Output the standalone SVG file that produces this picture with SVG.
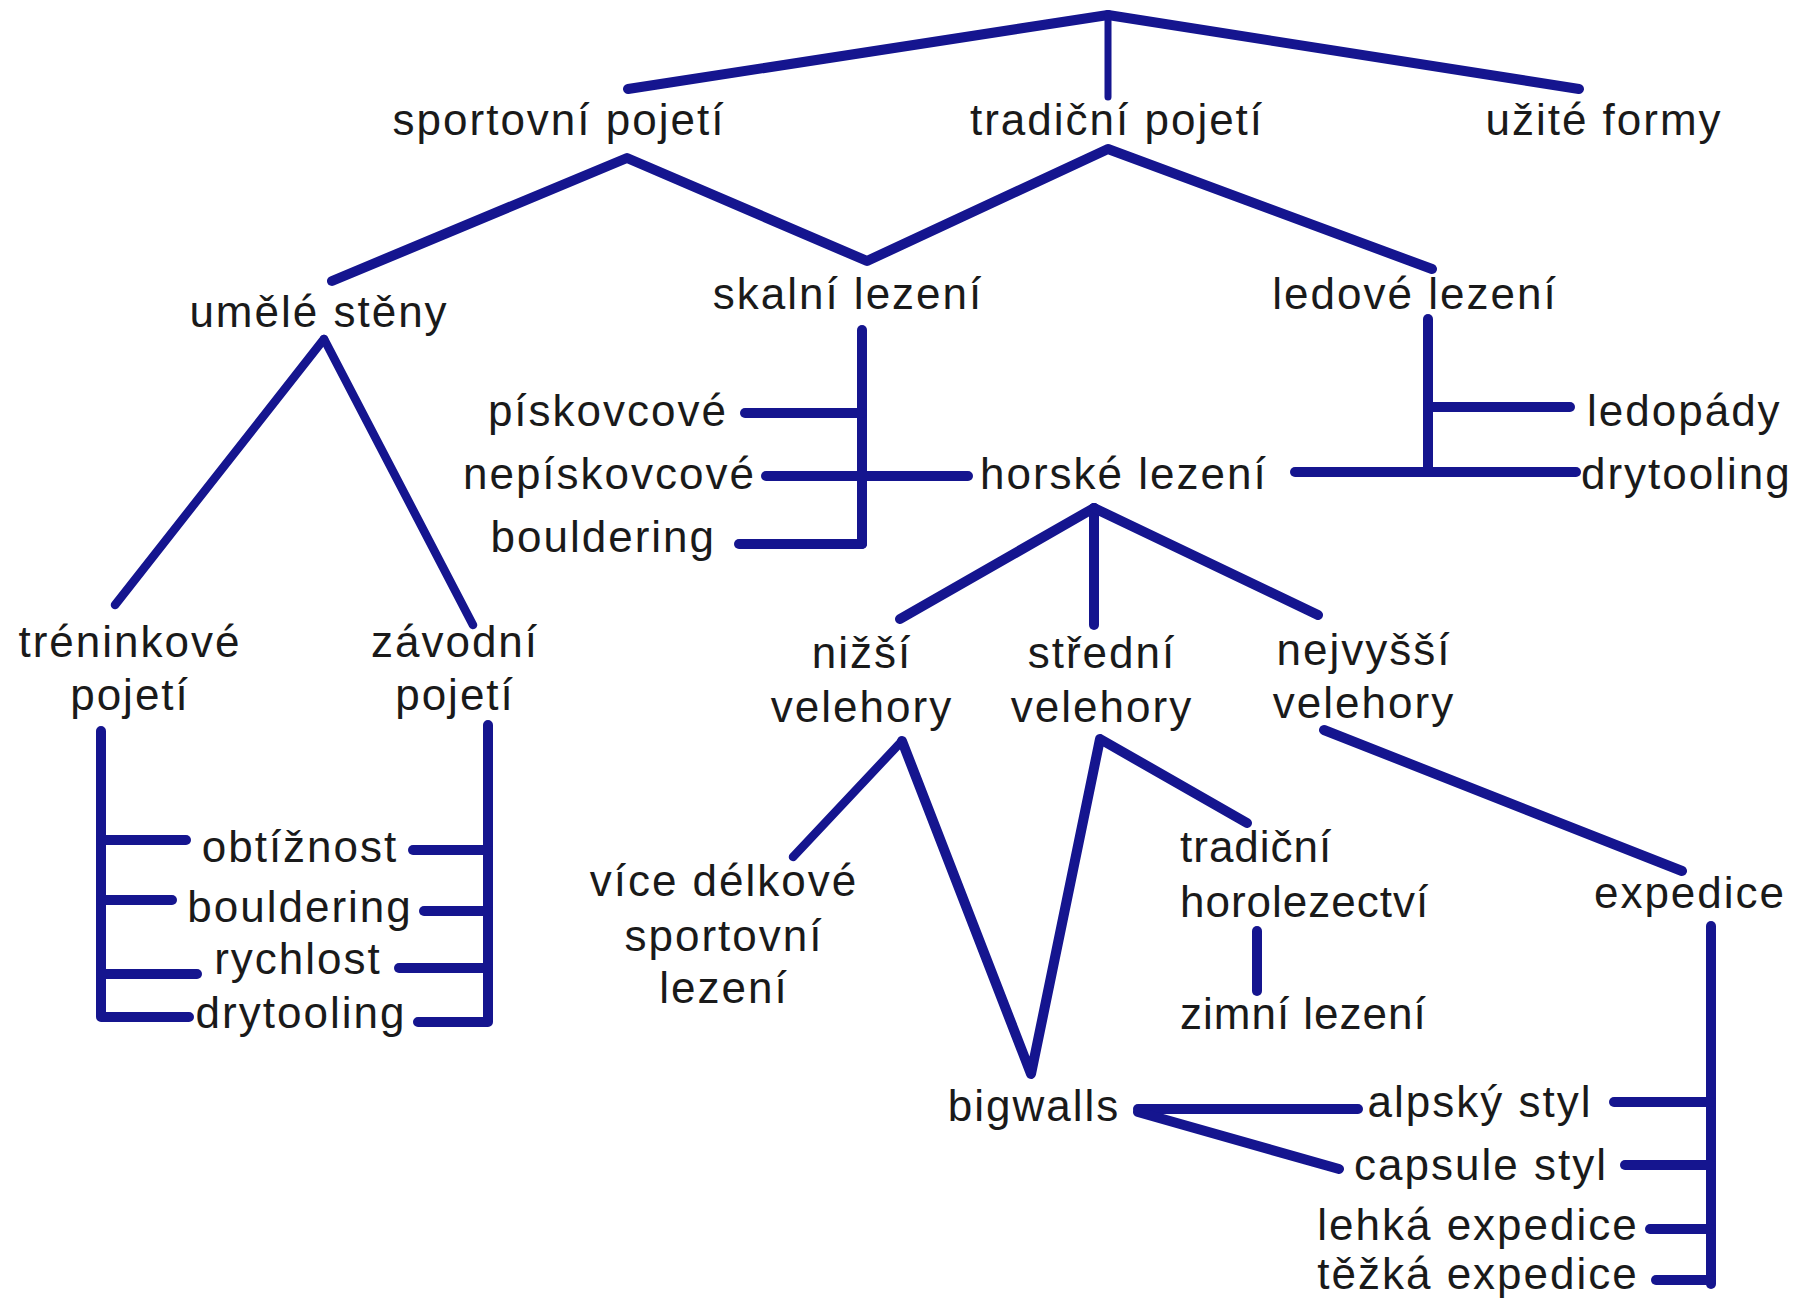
<svg xmlns="http://www.w3.org/2000/svg" width="1797" height="1301" viewBox="0 0 1797 1301">
<style>
text{font-family:"Liberation Sans",Arial,sans-serif;font-size:44px;fill:#1a1a1a;letter-spacing:2px}
.m{text-anchor:middle}
.e{text-anchor:end}
.n{letter-spacing:1px}
.c line,.c polyline{stroke:#15158f;stroke-width:10;fill:none;stroke-linecap:round;stroke-linejoin:round}
.c .t{stroke-width:7}
.c .u{stroke-width:8.5}
</style>
<rect width="1797" height="1301" fill="#ffffff"/>
<g class="c" id="connectors">
<line x1="1108" y1="15" x2="628" y2="89"/>
<line x1="1108" y1="15" x2="1579" y2="89"/>
<line class="t" x1="1108" y1="15" x2="1108" y2="97"/>
<polyline points="332,281 627,158 867,261 1108,149 1432,269"/>
<line class="u" x1="324" y1="339" x2="115" y2="605"/>
<line class="u" x1="324" y1="339" x2="473" y2="625"/>
<line x1="862" y1="330" x2="862" y2="544"/>
<line x1="745" y1="413" x2="862" y2="413"/>
<line x1="766" y1="476" x2="968" y2="476"/>
<line x1="739" y1="544" x2="862" y2="544"/>
<line x1="1428" y1="319" x2="1428" y2="472"/>
<line x1="1432" y1="407" x2="1570" y2="407"/>
<line x1="1295" y1="472" x2="1576" y2="472"/>
<line x1="1094" y1="508" x2="900" y2="619"/>
<line x1="1094" y1="508" x2="1094" y2="625"/>
<line x1="1094" y1="508" x2="1318" y2="615"/>
<polyline points="101,731 101,1017 189,1017"/>
<line x1="101" y1="840" x2="186" y2="840"/>
<line x1="101" y1="900" x2="172" y2="900"/>
<line x1="101" y1="974" x2="197" y2="974"/>
<polyline points="488,725 488,1022 418,1022"/>
<line x1="413" y1="850" x2="488" y2="850"/>
<line x1="424" y1="911" x2="488" y2="911"/>
<line x1="399" y1="968" x2="488" y2="968"/>
<line class="u" x1="902" y1="741" x2="793" y2="857"/>
<polyline points="902,741 1031,1074 1100,739 1247,823"/>
<line x1="1257" y1="931" x2="1257" y2="991"/>
<line x1="1324" y1="730" x2="1682" y2="871"/>
<line x1="1711" y1="926" x2="1711" y2="1284"/>
<line x1="1614" y1="1102" x2="1711" y2="1102"/>
<line x1="1625" y1="1165" x2="1711" y2="1165"/>
<line x1="1650" y1="1229" x2="1711" y2="1229"/>
<line x1="1656" y1="1280" x2="1711" y2="1280"/>
<line x1="1138" y1="1109" x2="1358" y2="1109"/>
<line x1="1138" y1="1112" x2="1339" y2="1169"/>
</g>
<g id="n-sportovni"><text class="m" x="559" y="135">sportovní pojetí</text></g>
<g id="n-tradicni"><text class="m" x="1117" y="135">tradiční pojetí</text></g>
<g id="n-uzite"><text class="m" x="1604" y="135">užité formy</text></g>
<g id="n-umele"><text class="m" x="319" y="327">umělé stěny</text></g>
<g id="n-skalni"><text class="m" x="848" y="309">skalní lezení</text></g>
<g id="n-ledove"><text class="m" x="1415" y="309">ledové lezení</text></g>
<g id="n-piskovcove"><text class="e" x="728" y="426">pískovcové</text></g>
<g id="n-nepiskovcove"><text class="e" x="756" y="489">nepískovcové</text></g>
<g id="n-bouldering1"><text class="e" x="716" y="552">bouldering</text></g>
<g id="n-horske"><text x="980" y="489">horské lezení</text></g>
<g id="n-ledopady"><text x="1587" y="426">ledopády</text></g>
<g id="n-drytooling1"><text x="1581" y="489">drytooling</text></g>
<g id="n-treninkove"><text class="m" x="130" y="657">tréninkové</text><text class="m" x="130" y="710">pojetí</text></g>
<g id="n-zavodni"><text class="m" x="455" y="657">závodní</text><text class="m" x="455" y="710">pojetí</text></g>
<g id="n-obtiznost"><text class="m" x="300" y="862">obtížnost</text></g>
<g id="n-bouldering2"><text class="m" x="300" y="922">bouldering</text></g>
<g id="n-rychlost"><text class="m" x="298" y="974">rychlost</text></g>
<g id="n-drytooling2"><text class="m" x="301" y="1028">drytooling</text></g>
<g id="n-nizsi"><text class="m" x="862" y="668">nižší</text><text class="m" x="862" y="722">velehory</text></g>
<g id="n-stredni"><text class="m" x="1102" y="668">střední</text><text class="m" x="1102" y="722">velehory</text></g>
<g id="n-nejvyssi"><text class="m" x="1364" y="665">nejvyšší</text><text class="m" x="1364" y="718">velehory</text></g>
<g id="n-vice"><text class="m" x="724" y="896">více délkové</text><text class="m" x="724" y="951">sportovní</text><text class="m" x="724" y="1003">lezení</text></g>
<g id="n-trad-horo"><text class="n" x="1180" y="862">tradiční</text><text class="n" x="1180" y="917">horolezectví</text></g>
<g id="n-zimni"><text class="n" x="1180" y="1029">zimní lezení</text></g>
<g id="n-expedice"><text class="m" x="1690" y="908">expedice</text></g>
<g id="n-bigwalls"><text class="m" x="1034" y="1121">bigwalls</text></g>
<g id="n-alpsky"><text class="m" x="1480" y="1117">alpský styl</text></g>
<g id="n-capsule"><text class="m" x="1481" y="1180">capsule styl</text></g>
<g id="n-lehka"><text class="m" x="1478" y="1240">lehká expedice</text></g>
<g id="n-tezka"><text class="m" x="1478" y="1289">těžká expedice</text></g>
</svg>
